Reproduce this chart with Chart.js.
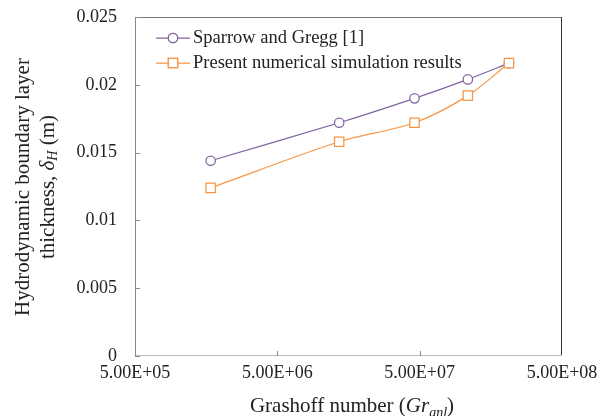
<!DOCTYPE html>
<html>
<head>
<meta charset="utf-8">
<script src="https://cdn.jsdelivr.net/npm/chart.js@4.4.1/dist/chart.umd.min.js"></script>
<style>
  html, body { margin: 0; padding: 0; background: #fff; }
  #chart { display: block; }
</style>
</head>
<body>
<canvas id="chart" width="607" height="416"></canvas>
<script>
// Grashoff numbers (x, log scale)
const grashof = [1.7e6, 1.36e7, 4.6e7, 1.09e8, 2.12e8];
// Hydrodynamic boundary layer thickness (m)
const sparrowGregg = [0.0144, 0.0172, 0.0190, 0.0204, 0.0216];
const presentSim = [0.0124, 0.0158, 0.0172, 0.0192, 0.0216];

const xTickValues = [5e5, 5e6, 5e7, 5e8];
const xTickLabels = ['5.00E+05', '5.00E+06', '5.00E+07', '5.00E+08'];
const yTickLabels = ['0', '0.005', '0.01', '0.015', '0.02', '0.025'];

const seriesNames = ['Sparrow and Gregg [1]', 'Present numerical simulation results'];
const PURPLE = '#8064A2';
const ORANGE = '#F79646';
const SERIF = '"Liberation Serif", "Times New Roman", serif';

const toPoints = (ys) => ys.map((y, i) => ({ x: grashof[i], y: y }));

// draw a row of text pieces with different fonts, centred on x
function drawRuns(ctx, runs, x, y) {
    let total = 0;
    runs.forEach(r => { ctx.font = r.font; total += ctx.measureText(r.t).width; });
    let cx = x - total / 2;
    runs.forEach(r => {
        ctx.font = r.font;
        ctx.fillText(r.t, cx, y + (r.dy || 0));
        cx += ctx.measureText(r.t).width;
    });
}

const decor = {
    id: 'decor',
    beforeDatasetsDraw(chart) {
        const { ctx, chartArea: a, scales: { x, y } } = chart;
        ctx.save();
        ctx.lineWidth = 1;
        // frame
        const line = (x1, y1, x2, y2, c) => {
            ctx.strokeStyle = c;
            ctx.beginPath(); ctx.moveTo(x1, y1); ctx.lineTo(x2, y2); ctx.stroke();
        };
        line(a.left, a.top + 0.5, a.right, a.top + 0.5, '#777');
        line(a.right - 0.5, a.top, a.right - 0.5, a.bottom, '#333');
        line(a.left, a.bottom - 0.5, a.right, a.bottom - 0.5, '#bbb');
        line(a.left + 0.5, a.top, a.left + 0.5, a.bottom, '#888');
        // inside tick marks
        y.ticks.forEach(t => {
            const py = Math.round(y.getPixelForValue(t.value)) + 0.5;
            line(a.left, py, a.left + 5, py, '#888');
        });
        xTickValues.slice(1, -1).forEach(v => {
            const px = Math.round(x.getPixelForValue(v)) + 0.5;
            line(px, a.bottom, px, a.bottom - 5, '#888');
        });
        ctx.restore();
    },
    afterDraw(chart) {
        const { ctx } = chart;
        ctx.save();
        ctx.fillStyle = '#222';
        ctx.textBaseline = 'middle';
        ctx.textAlign = 'left';

        // legend inside the plot
        const rows = [
            { name: seriesNames[0], color: PURPLE, style: 'circle', r: 4.7, y: 38 },
            { name: seriesNames[1], color: ORANGE, style: 'rect', r: 6.6, y: 63 }
        ];
        rows.forEach(row => {
            ctx.strokeStyle = row.color;
            ctx.lineWidth = 1.25;
            ctx.beginPath(); ctx.moveTo(156, row.y); ctx.lineTo(190, row.y); ctx.stroke();
            ctx.fillStyle = '#fff';
            Chart.helpers.drawPoint(ctx, { pointStyle: row.style, radius: row.r, borderWidth: 1.25 }, 173, row.y);
            ctx.fill(); ctx.stroke();
            ctx.fillStyle = '#222';
            ctx.font = '18.5px ' + SERIF;
            ctx.fillText(row.name, 193, row.y);
        });

        // y axis title (two rotated lines)
        const big = '21px ' + SERIF;
        const it = 'italic 21px ' + SERIF;
        const sub = 'italic 14px ' + SERIF;
        ctx.save();
        ctx.translate(0, 187);
        ctx.rotate(-Math.PI / 2);
        ctx.textAlign = 'left';
        drawRuns(ctx, [{ t: 'Hydrodynamic boundary layer', font: big }], 0, 23);
        drawRuns(ctx, [
            { t: 'thickness, ', font: big },
            { t: '\u03b4', font: it },
            { t: 'H', font: sub, dy: 5 },
            { t: ' (m)', font: big }
        ], 0, 48);
        ctx.restore();

        // x axis title
        ctx.textBaseline = 'alphabetic';
        drawRuns(ctx, [
            { t: 'Grashoff number (', font: big },
            { t: 'Gr', font: it },
            { t: 'anl', font: sub, dy: 5 },
            { t: ')', font: big }
        ], 352, 412);
        ctx.restore();
    }
};

new Chart(document.getElementById('chart'), {
    type: 'line',
    data: {
        datasets: [
            {
                label: seriesNames[1],
                data: toPoints(presentSim),
                borderColor: ORANGE,
                backgroundColor: '#fff',
                borderWidth: 1.25,
                tension: 0.3,
                pointStyle: 'rect',
                pointRadius: 6.6,
                pointBorderWidth: 1.25,
                order: 0
            },
            {
                label: seriesNames[0],
                data: toPoints(sparrowGregg),
                borderColor: PURPLE,
                backgroundColor: '#fff',
                borderWidth: 1.25,
                tension: 0.3,
                pointStyle: 'circle',
                pointRadius: 4.7,
                pointBorderWidth: 1.25,
                order: 1
            }
        ]
    },
    options: {
        responsive: false,
        animation: false,
        devicePixelRatio: 1,
        layout: { padding: { top: 17, right: 45, left: 0, bottom: 0 } },
        plugins: { legend: { display: false }, tooltip: { enabled: false } },
        scales: {
            x: {
                type: 'logarithmic',
                min: 5e5,
                max: 5e8,
                afterBuildTicks: (s) => { s.ticks = xTickValues.map(v => ({ value: v })); },
                afterFit: (s) => { s.height = 60; },
                grid: { display: false, drawTicks: false },
                border: { display: false },
                ticks: {
                    autoSkip: false,
                    maxRotation: 0,
                    padding: 6,
                    color: '#222',
                    font: { family: SERIF, size: 18 },
                    callback: (v, i) => xTickLabels[i]
                }
            },
            y: {
                min: 0,
                max: 0.025,
                afterBuildTicks: (s) => { s.ticks = yTickLabels.map(l => ({ value: parseFloat(l) })); },
                afterFit: (s) => { s.width = 135; s.paddingTop = 0; s.paddingBottom = 0; },
                grid: { display: false, drawTicks: false },
                border: { display: false },
                ticks: {
                    padding: 18,
                    color: '#222',
                    font: { family: SERIF, size: 18 },
                    callback: (v, i) => yTickLabels[i]
                }
            }
        }
    },
    plugins: [decor]
});
</script>
</body>
</html>
